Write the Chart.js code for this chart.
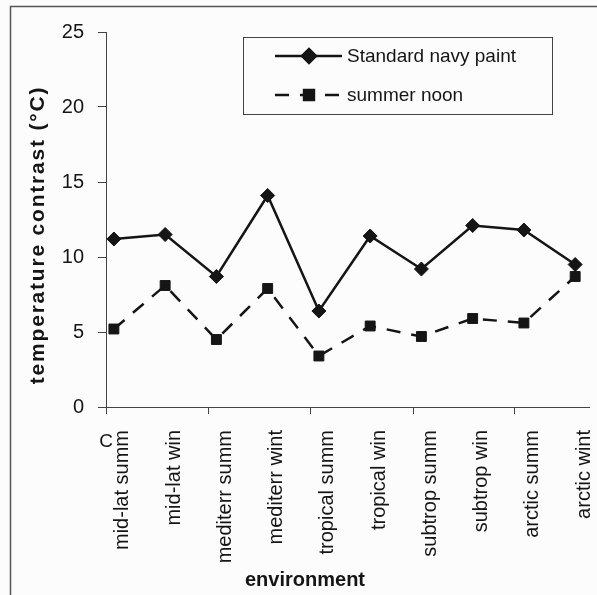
<!DOCTYPE html>
<html>
<head>
<meta charset="utf-8">
<script src="https://cdn.jsdelivr.net/npm/chart.js@4.4.0/dist/chart.umd.min.js"></script>
<style>
  html, body { margin: 0; padding: 0; background: #fcfcfc; overflow: hidden; }
  #wrap { width: 597px; height: 595px; }
</style>
</head>
<body>
<div id="wrap"><canvas id="myChart"></canvas></div>
<script>
const categories = ["mid-lat summ", "mid-lat win", "mediterr summ", "mediterr wint", "tropical summ",
  "tropical win", "subtrop summ", "subtrop win", "arctic summ", "arctic wint"];
const navyPaint = [11.2, 11.5, 8.7, 14.1, 6.4, 11.4, 9.2, 12.1, 11.8, 9.5];
const summerNoon = [5.2, 8.1, 4.5, 7.9, 3.4, 5.4, 4.7, 5.9, 5.6, 8.7];
const yTicks = [0, 5, 10, 15, 20, 25];

const FONT = "'Liberation Sans', Arial, sans-serif";
const INK = "#151515";
// tick marks on the x axis sit every second category, slightly left of the points
const xTickMarks = [-0.154, 1.84, 3.83, 5.83, 7.81];

const extras = {
  id: "extras",
  beforeDraw(chart) {
    const ctx = chart.ctx;
    ctx.save();
    ctx.fillStyle = "#fcfcfc";
    ctx.fillRect(0, 0, chart.width, chart.height);
    ctx.strokeStyle = "#555";
    ctx.lineWidth = 1.5;
    ctx.beginPath();
    ctx.moveTo(10.5, chart.height + 5);
    ctx.lineTo(10.5, 6.5);
    ctx.lineTo(chart.width + 5, 6.5);
    ctx.stroke();
    ctx.restore();
  },
  afterDraw(chart) {
    const ctx = chart.ctx;
    const x = chart.scales.x;
    ctx.save();

    // tick marks
    ctx.strokeStyle = "#444";
    ctx.lineWidth = 1;
    xTickMarks.forEach(function (v) {
      const px = Math.round(x.getPixelForValue(v)) + 0.5;
      ctx.beginPath();
      ctx.moveTo(px, x.top);
      ctx.lineTo(px, x.top + 7);
      ctx.stroke();
    });

    // stray "C" next to the first label
    ctx.fillStyle = INK;
    ctx.font = "19px " + FONT;
    ctx.textAlign = "center";
    ctx.textBaseline = "middle";
    ctx.fillText("C", 106, 442);

    // axis titles
    ctx.font = "bold 20px " + FONT;
    ctx.fillText("environment", 305, 580);

    ctx.save();
    ctx.translate(38, 235);
    ctx.rotate(-Math.PI / 2);
    ctx.font = "bold 21px " + FONT;
    ctx.letterSpacing = "1.8px";
    ctx.fillText("temperature contrast (°C)", 0, 0);
    ctx.restore();

    // legend
    ctx.strokeStyle = "#444";
    ctx.lineWidth = 1;
    ctx.strokeRect(243.5, 37.5, 309, 77);
    const rows = [56, 95];
    chart.data.datasets.forEach(function (ds, i) {
      const y = rows[i];
      ctx.strokeStyle = ds.borderColor;
      ctx.lineWidth = ds.borderWidth;
      ctx.setLineDash(ds.borderDash || []);
      ctx.beginPath();
      ctx.moveTo(275, y);
      ctx.lineTo(342, y);
      ctx.stroke();
      ctx.setLineDash([]);
      ctx.fillStyle = ds.pointBackgroundColor;
      Chart.helpers.drawPoint(ctx, {
        pointStyle: ds.pointStyle,
        radius: ds.pointRadius,
        borderWidth: 1,
        rotation: 0
      }, 309, y);
      ctx.fillStyle = INK;
      ctx.font = "19px " + FONT;
      ctx.textAlign = "left";
      ctx.textBaseline = "middle";
      ctx.fillText(ds.label, 347, y + 1);
    });
    ctx.restore();
  }
};

const data = {
  datasets: [
    {
      label: "Standard navy paint",
      data: navyPaint.map((v, i) => ({ x: i, y: v })),
      borderColor: INK,
      borderWidth: 2.5,
      pointStyle: "rectRot",
      pointRadius: 7,
      pointBackgroundColor: INK,
      pointBorderColor: INK,
      pointBorderWidth: 1
    },
    {
      label: "summer noon",
      data: summerNoon.map((v, i) => ({ x: i, y: v })),
      borderColor: INK,
      borderWidth: 2.5,
      borderDash: [14, 11],
      pointStyle: "rect",
      pointRadius: 7,
      pointBackgroundColor: INK,
      pointBorderColor: INK,
      pointBorderWidth: 1
    }
  ]
};

const config = {
  type: "line",
  data,
  plugins: [extras],
  options: {
    responsive: true,
    maintainAspectRatio: false,
    animation: false,
    layout: { padding: { top: 32, right: 0, bottom: 0, left: 0 } },
    plugins: {
      legend: { display: false },
      tooltip: { enabled: false }
    },
    scales: {
      x: {
        type: "linear",
        min: -0.154,
        max: 9.27,
        afterBuildTicks: function (scale) {
          scale.ticks = categories.map((c, i) => ({ value: i }));
        },
        afterFit: function (scale) {
          scale.height = 188;
          scale.paddingLeft = 0;
          scale.paddingRight = 0;
        },
        grid: { display: false },
        border: { display: true, color: "#444", width: 1 },
        ticks: {
          autoSkip: false,
          maxRotation: 90,
          minRotation: 90,
          labelOffset: 9,
          padding: 15,
          color: INK,
          font: { family: FONT, size: 20 },
          callback: function (val) {
            return categories[val];
          }
        }
      },
      y: {
        min: 0,
        max: 25,
        afterBuildTicks: function (scale) {
          scale.ticks = yTicks.map(v => ({ value: v }));
        },
        afterFit: function (scale) {
          scale.width = 106;
        },
        grid: {
          drawOnChartArea: false,
          tickLength: 8,
          color: "#444"
        },
        border: { display: true, color: "#444", width: 1 },
        ticks: {
          padding: 14,
          color: INK,
          font: { family: FONT, size: 20 }
        }
      }
    }
  }
};

const ctx = document.getElementById("myChart").getContext("2d");
new Chart(ctx, config);
</script>
</body>
</html>
